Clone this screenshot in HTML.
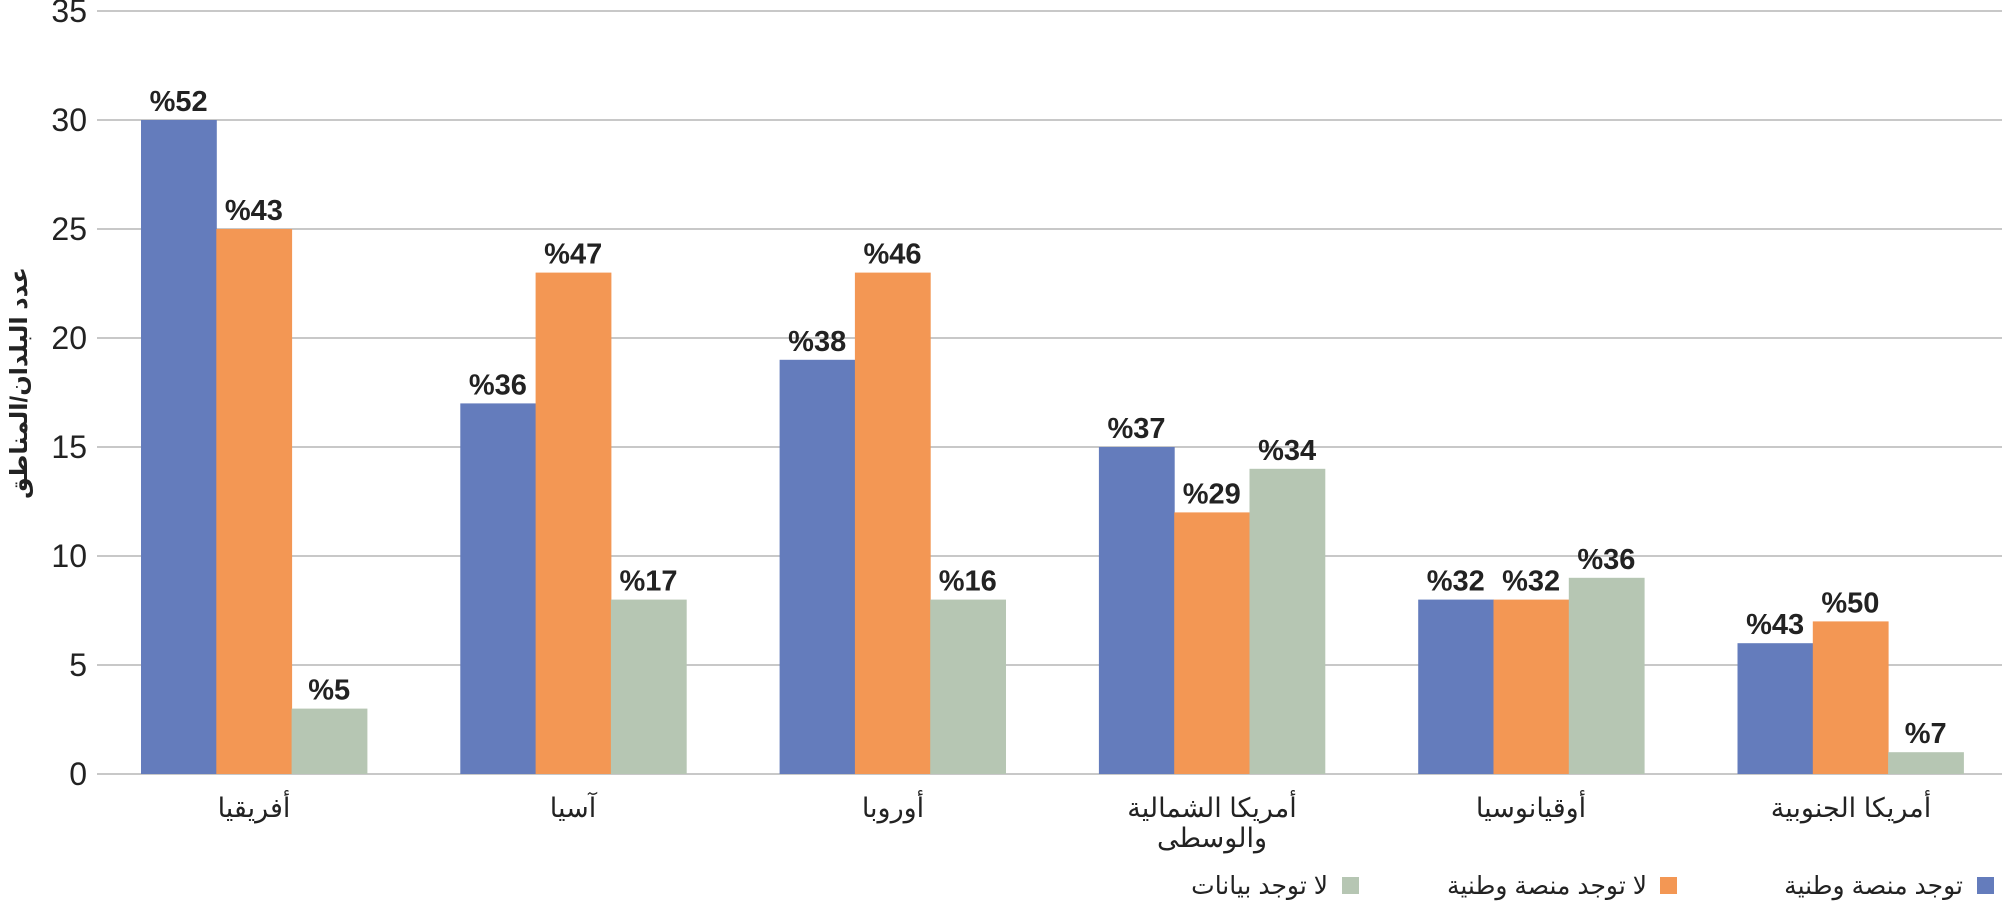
<!DOCTYPE html>
<html><head><meta charset="utf-8"><style>
html,body{margin:0;padding:0;background:#fff;}
svg{display:block;}
</style></head><body>
<svg width="2002" height="905" xmlns="http://www.w3.org/2000/svg" font-family="Liberation Sans, DejaVu Sans, sans-serif">
<g stroke="#c8c8c8" stroke-width="2">
<line x1="97" x2="2002" y1="11" y2="11"/>
<line x1="97" x2="2002" y1="120" y2="120"/>
<line x1="97" x2="2002" y1="229" y2="229"/>
<line x1="97" x2="2002" y1="338" y2="338"/>
<line x1="97" x2="2002" y1="447" y2="447"/>
<line x1="97" x2="2002" y1="556" y2="556"/>
<line x1="97" x2="2002" y1="665" y2="665"/>
<line x1="97" x2="2002" y1="774" y2="774"/>
</g>
<g font-size="32" fill="#222" text-anchor="end">
<text x="87" y="22">35</text>
<text x="87" y="131">30</text>
<text x="87" y="240">25</text>
<text x="87" y="349">20</text>
<text x="87" y="458">15</text>
<text x="87" y="567">10</text>
<text x="87" y="676">5</text>
<text x="87" y="785">0</text>
</g>
<text transform="translate(27,383) rotate(-90)" text-anchor="middle" font-size="24" font-weight="bold" fill="#222">عدد البلدان/المناطق</text>
<g id="bars"></g>
<g id="lbl" font-size="29" font-weight="bold" fill="#222" text-anchor="middle"></g>
<g font-size="27" fill="#222" text-anchor="middle">
<text x="254" y="817">أفريقيا</text>
<text x="573" y="817">آسيا</text>
<text x="893" y="817">أوروبا</text>
<text x="1212" y="817">أمريكا الشمالية</text>
<text x="1212" y="847">والوسطى</text>
<text x="1531" y="817">أوقيانوسيا</text>
<text x="1851" y="817">أمريكا الجنوبية</text>
</g>
<rect x="1977" y="877" width="17" height="17" fill="#647cbc"/>
<rect x="1660" y="877" width="17" height="17" fill="#f39754"/>
<rect x="1342" y="877" width="17" height="17" fill="#b6c6b3"/>
<g font-size="25" fill="#222" text-anchor="end">
<text x="1963" y="894">توجد منصة وطنية</text>
<text x="1647" y="894">لا توجد منصة وطنية</text>
<text x="1328" y="894">لا توجد بيانات</text>
</g>
<script>
var d=[[30,25,3],[17,23,8],[19,23,8],[15,12,14],[8,8,9],[6,7,1]];
var l=[["%52","%43","%5"],["%36","%47","%17"],["%38","%46","%16"],["%37","%29","%34"],["%32","%32","%36"],["%43","%50","%7"]];
var c=["#647cbc","#f39754","#b6c6b3"];
var b=document.getElementById("bars"),t=document.getElementById("lbl"),ns="http://www.w3.org/2000/svg";
for(var g=0;g<6;g++)for(var i=0;i<3;i++){
var x=141+319.3*g+75.3*i,y=774-21.8*d[g][i];
var r=document.createElementNS(ns,"rect");
r.setAttribute("x",x);r.setAttribute("y",y);r.setAttribute("width",75.8);r.setAttribute("height",774-y);r.setAttribute("fill",c[i]);b.appendChild(r);
var s=document.createElementNS(ns,"text");s.setAttribute("x",x+37.6);s.setAttribute("y",y-9);s.textContent=l[g][i];t.appendChild(s);}
</script>
</svg>
</body></html>
